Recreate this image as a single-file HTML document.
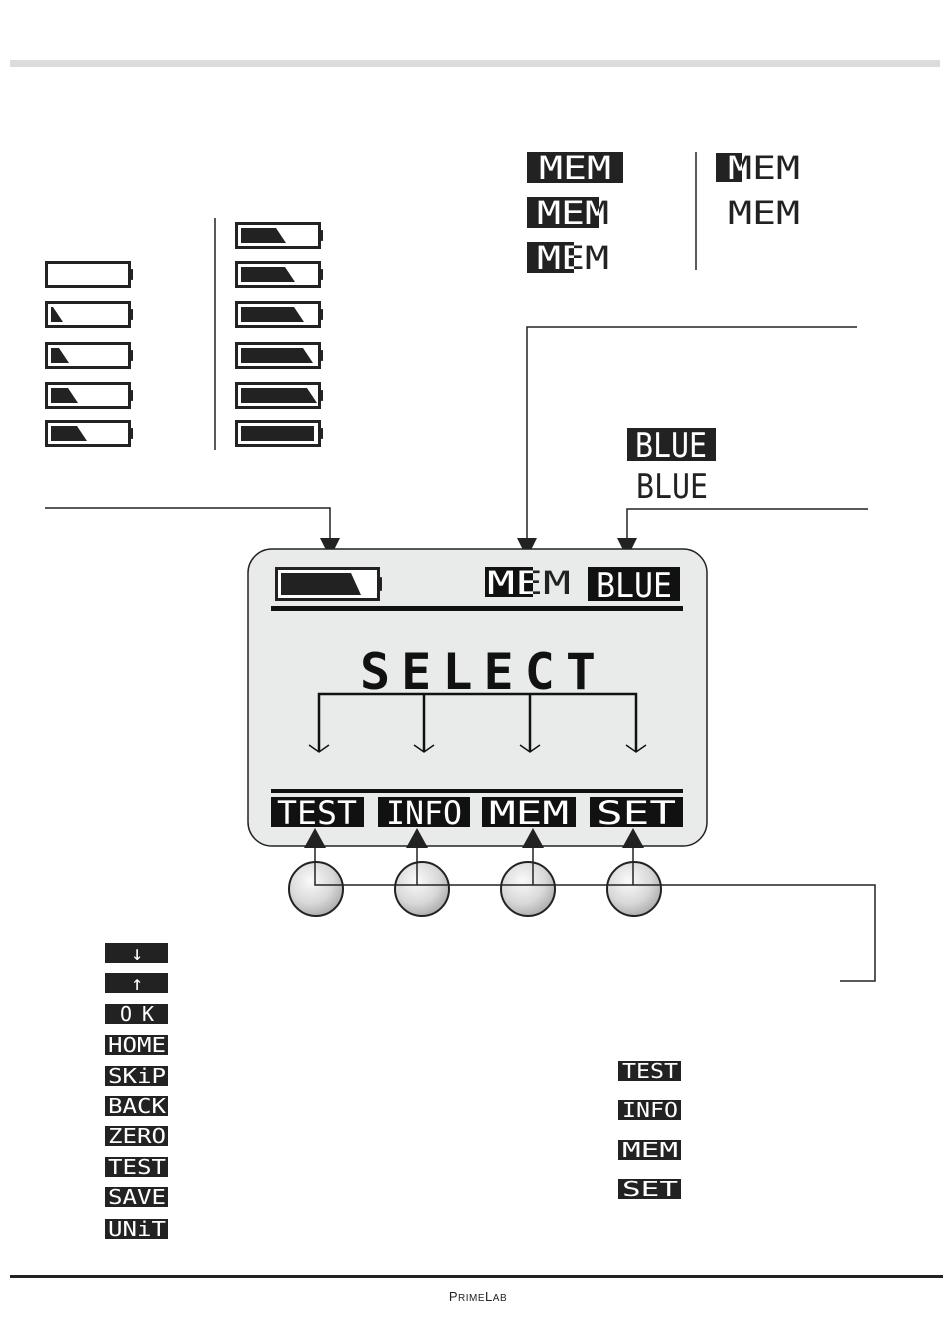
<!DOCTYPE html>
<html><head><meta charset="utf-8"><style>
html,body{margin:0;padding:0;background:#fff;width:950px;height:1341px;overflow:hidden}
svg{display:block}
.w{fill:#fff;font-family:"DejaVu Sans Mono","Liberation Mono",monospace;font-weight:normal;text-anchor:middle}
.b{fill:#222;font-family:"DejaVu Sans Mono","Liberation Mono",monospace;font-weight:normal;text-anchor:middle}
</style></head><body>
<svg id="s" width="950" height="1341" viewBox="0 0 950 1341" xmlns="http://www.w3.org/2000/svg">
<defs>
<radialGradient id="g" cx="0.4" cy="0.35" r="0.7"><stop offset="0" stop-color="#fafafa"/><stop offset="0.6" stop-color="#d8d8d8"/><stop offset="1" stop-color="#a8a8a8"/></radialGradient>
<clipPath id="c2"><rect x="527" y="197" width="72" height="31"/></clipPath>
<clipPath id="c3"><rect x="527" y="242" width="47" height="31"/></clipPath>
<clipPath id="c4"><rect x="716" y="153" width="26" height="29"/></clipPath>
<clipPath id="c5"><rect x="485" y="567" width="48" height="30"/></clipPath>
</defs>
<rect x="10" y="60" width="930" height="7" fill="#dcdcdc"/>

<g id="bats"></g>
<line x1="215" y1="218" x2="215" y2="450" stroke="#222" stroke-width="1.5"/>

<!-- MEM variants -->
<rect x="527" y="152" width="96" height="31" fill="#222"/>
<text class="w" x="575" y="179" font-size="32" textLength="72" lengthAdjust="spacingAndGlyphs">MEM</text>
<rect x="527" y="197" width="72" height="31" fill="#222"/>
<text class="b" x="573" y="224" font-size="32" textLength="72" lengthAdjust="spacingAndGlyphs">MEM</text>
<text class="w" x="573" y="224" font-size="32" textLength="72" lengthAdjust="spacingAndGlyphs" clip-path="url(#c2)">MEM</text>
<rect x="527" y="242" width="47" height="31" fill="#222"/>
<text class="b" x="573" y="269" font-size="32" textLength="72" lengthAdjust="spacingAndGlyphs">MEM</text>
<text class="w" x="573" y="269" font-size="32" textLength="72" lengthAdjust="spacingAndGlyphs" clip-path="url(#c3)">MEM</text>
<line x1="696" y1="152" x2="696" y2="270" stroke="#222" stroke-width="1.5"/>
<rect x="716" y="153" width="26" height="29" fill="#222"/>
<text class="b" x="764" y="179" font-size="32" textLength="72" lengthAdjust="spacingAndGlyphs">MEM</text>
<text class="w" x="764" y="179" font-size="32" textLength="72" lengthAdjust="spacingAndGlyphs" clip-path="url(#c4)">MEM</text>
<text class="b" x="764" y="224" font-size="32" textLength="72" lengthAdjust="spacingAndGlyphs">MEM</text>

<!-- BLUE -->
<rect x="627" y="428" width="89" height="33" fill="#222"/>
<text class="w" x="671" y="457" font-size="34" textLength="72" lengthAdjust="spacingAndGlyphs">BLUE</text>
<text class="b" x="672" y="498" font-size="34" textLength="72" lengthAdjust="spacingAndGlyphs">BLUE</text>

<!-- connector lines top -->
<g stroke="#222" stroke-width="1.5" fill="none">
<polyline points="45,508 330,508 330,540"/>
<polyline points="857,327 527,327 527,540"/>
<polyline points="868,509 627,509 627,540"/>
</g>
<g fill="#222">
<polygon points="320,538 340,538 330,558"/>
<polygon points="517,538 537,538 527,558"/>
<polygon points="617,538 637,538 627,558"/>
</g>

<!-- device -->
<rect x="248" y="549" width="459" height="297" rx="24" fill="#e9ebea" stroke="#222" stroke-width="1.5"/>
<g id="scrbat"></g>
<rect x="485" y="567" width="48" height="30" fill="#111"/>
<text class="b" x="529" y="594" font-size="32" textLength="84" lengthAdjust="spacingAndGlyphs">MEM</text>
<text class="w" x="529" y="594" font-size="32" textLength="84" lengthAdjust="spacingAndGlyphs" clip-path="url(#c5)">MEM</text>
<rect x="588" y="567" width="92" height="34" fill="#111"/>
<text class="w" x="634" y="597" font-size="34" textLength="76" lengthAdjust="spacingAndGlyphs">BLUE</text>
<rect x="271" y="606" width="412" height="5" fill="#111"/>
<text x="478" y="689" font-size="50" font-family="DejaVu Sans Mono,monospace" font-weight="bold" text-anchor="middle" textLength="236" lengthAdjust="spacing" fill="#111">SELECT</text>
<g stroke="#111" stroke-width="2.5" fill="none">
<polyline points="319,752 319,694 636,694 636,752"/>
<line x1="424" y1="694" x2="424" y2="752"/>
<line x1="530" y1="694" x2="530" y2="752"/>
</g>
<g stroke="#111" stroke-width="1.5" fill="none">
<polyline points="309,745 319,752 329,745"/>
<polyline points="414,745 424,752 434,745"/>
<polyline points="520,745 530,752 540,745"/>
<polyline points="626,745 636,752 646,745"/>
</g>
<rect x="271" y="789" width="412" height="4" fill="#111"/>
<rect x="271" y="797" width="93" height="30" fill="#111"/>
<text class="w" x="317" y="824" font-size="32" textLength="80" lengthAdjust="spacingAndGlyphs">TEST</text>
<rect x="378" y="797" width="92" height="30" fill="#111"/>
<text class="w" x="424" y="824" font-size="32" textLength="76" lengthAdjust="spacingAndGlyphs">INFO</text>
<rect x="482" y="797" width="94" height="30" fill="#111"/>
<text class="w" x="529" y="824" font-size="32" textLength="80" lengthAdjust="spacingAndGlyphs">MEM</text>
<rect x="590" y="797" width="93" height="30" fill="#111"/>
<text class="w" x="636" y="824" font-size="32" textLength="80" lengthAdjust="spacingAndGlyphs">SET</text>
<g fill="#222">
<polygon points="304,848 326,848 315,828"/>
<polygon points="406,848 428,848 417,828"/>
<polygon points="522,848 544,848 533,828"/>
<polygon points="622,848 644,848 633,828"/>
</g>

<!-- buttons -->
<g fill="url(#g)" stroke="#222" stroke-width="2">
<circle cx="316" cy="889" r="27"/><circle cx="422" cy="889" r="27"/>
<circle cx="528" cy="889" r="27"/><circle cx="634" cy="889" r="27"/>
</g>
<g stroke="#222" stroke-width="1.5" fill="none">
<polyline points="315,848 315,885 875,885 875,981 840,981"/>
<line x1="417" y1="848" x2="417" y2="885"/>
<line x1="533" y1="848" x2="533" y2="885"/>
<line x1="633" y1="848" x2="633" y2="885"/>
</g>

<!-- left legend -->
<g fill="#222">
<rect x="105" y="943" width="63" height="20"/><rect x="105" y="973" width="63" height="20"/>
<rect x="105" y="1004" width="63" height="20"/><rect x="105" y="1035" width="63" height="20"/>
<rect x="105" y="1066" width="63" height="20"/><rect x="105" y="1096" width="63" height="20"/>
<rect x="105" y="1126" width="63" height="20"/><rect x="105" y="1157" width="63" height="20"/>
<rect x="105" y="1187" width="63" height="20"/><rect x="105" y="1219" width="63" height="20"/>
</g>
<g class="w" font-size="20">
<text x="137" y="960">↓</text><text x="137" y="990">↑</text>
<text x="137" y="1021" textLength="34" lengthAdjust="spacing">O K</text>
<text x="137" y="1052" textLength="58" lengthAdjust="spacingAndGlyphs">HOME</text>
<text x="137" y="1083" textLength="58" lengthAdjust="spacingAndGlyphs">SKiP</text>
<text x="137" y="1113" textLength="58" lengthAdjust="spacingAndGlyphs">BACK</text>
<text x="137" y="1143" textLength="58" lengthAdjust="spacingAndGlyphs">ZERO</text>
<text x="137" y="1174" textLength="58" lengthAdjust="spacingAndGlyphs">TEST</text>
<text x="137" y="1204" textLength="58" lengthAdjust="spacingAndGlyphs">SAVE</text>
<text x="137" y="1236" textLength="58" lengthAdjust="spacingAndGlyphs">UNiT</text>
</g>

<!-- right legend -->
<g fill="#222">
<rect x="618" y="1061" width="63" height="20"/><rect x="618" y="1100" width="63" height="20"/>
<rect x="618" y="1140" width="63" height="20"/><rect x="618" y="1179" width="63" height="20"/>
</g>
<g class="w" font-size="20">
<text x="650" y="1078" textLength="56" lengthAdjust="spacingAndGlyphs">TEST</text>
<text x="650" y="1117" textLength="56" lengthAdjust="spacingAndGlyphs">INFO</text>
<text x="650" y="1157" textLength="56" lengthAdjust="spacingAndGlyphs">MEM</text>
<text x="650" y="1196" textLength="56" lengthAdjust="spacingAndGlyphs">SET</text>
</g>

<rect x="10" y="1275" width="933" height="3" fill="#222"/>
<text x="478" y="1301" text-anchor="middle" font-family="Liberation Sans,sans-serif" font-size="13" fill="#222" letter-spacing="0.5">P<tspan font-size="10">RIME</tspan>L<tspan font-size="10">AB</tspan></text>
</svg>
<script>
var NS="http://www.w3.org/2000/svg";
function el(p,t,a){var e=document.createElementNS(NS,t);for(var k in a)e.setAttribute(k,a[k]);p.appendChild(e);return e;}
function bat(g,x,y,w,h,f,full){
 el(g,"rect",{x:x+1.5,y:y+1.5,width:w-6,height:h-3,fill:"#fff",stroke:"#222","stroke-width":3});
 el(g,"rect",{x:x+w-5,y:y+h*0.3,width:4,height:h*0.4,fill:"#222"});
 if(f>0){
  var x0=x+6,y0=y+6,y1=y+h-6;
  if(full){el(g,"rect",{x:x0,y:y0,width:f,height:y1-y0,fill:"#222"});}
  else el(g,"polygon",{points:x0+","+y0+" "+(x0+f-10)+","+y0+" "+(x0+f)+","+y1+" "+x0+","+y1,fill:"#222"});
 }
}
var g=document.getElementById("bats");
var L=[261,301,342,382,420],LF=[0,12,18,27,36];
for(var i=0;i<5;i++)bat(g,45,L[i],89,27,LF[i]);
var R=[222,261,301,342,382,420],RF=[45,54,63,72,76,73];
for(var i=0;i<6;i++)bat(g,235,R[i],89,27,RF[i],i==5);
bat(document.getElementById("scrbat"),275,567,108,34,80);
</script>
</body></html>
